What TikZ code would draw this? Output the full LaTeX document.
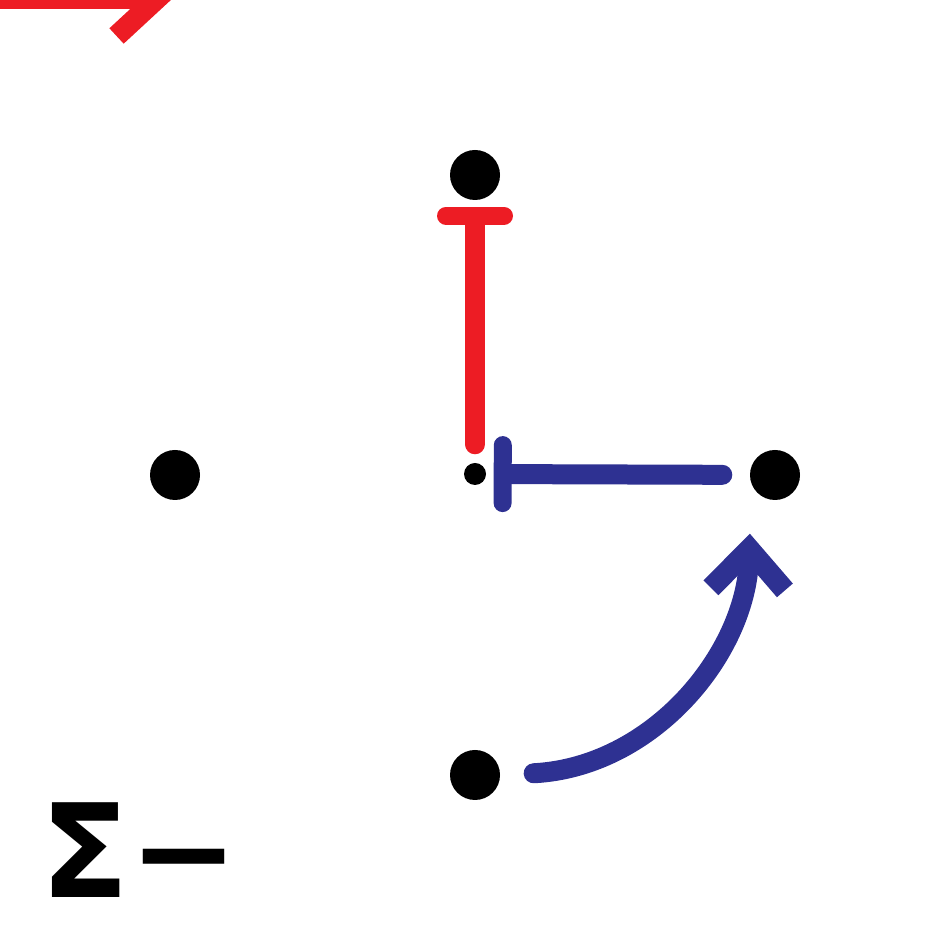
\documentclass[tikz,border=0pt]{standalone}
\usepackage{fontspec}
\newfontfamily\symfont{DejaVu Sans}
\usetikzlibrary{arrows.meta}
\definecolor{actred}{HTML}{ED1C24}
\definecolor{inhblue}{HTML}{2E3192}

\begin{document}
\begin{tikzpicture}[
  site/.style={circle, fill=black, inner sep=0pt, minimum size=0.5cm},
  hub/.style={circle, fill=black, inner sep=0pt, minimum size=0.22cm},
  link/.style={line width=0.2cm, line cap=round},
  inhibit/.style={link, -{Bar[width=5.8mm, line width=1.8mm, round]}},
  activate/.style={link, -{Straight Barb[length=4mm, width=7.4mm, line width=2.1mm]}}
]
\useasboundingbox (0,0) rectangle (9.5,9.5);

% Sommets
\node[site] (top) at (4.75,7.75) {};
\node[site] (lft) at (1.75,4.75) {};
\node[hub]  (ctr) at (4.75,4.76) {};
\node[site] (rgt) at (7.75,4.75) {};
\node[site] (bot) at (4.75,1.75) {};

% Extrémités libres de la flèche coupée
\coordinate (inA) at (-0.5,9.51);
\coordinate (inB) at (1.72,9.51);

% Flèches
\draw[inhibit, draw=actred, shorten <=0.18cm, shorten >=0.06cm] (ctr) -- (top);
\draw[inhibit, draw=inhblue, shorten <=0.27cm, shorten >=0.07cm] (rgt) -- (ctr);
\draw[activate, draw=inhblue, shorten <=0.33cm, shorten >=0.33cm]
  (bot.east) to[out=3, in=-92, looseness=1.05] ([xshift=-0.24cm]rgt.south);
\draw[activate, draw=actred] (inA) -- (inB);

% Étiquette
\node[font=\symfont\bfseries\fontsize{37}{37}\selectfont, anchor=south west, inner sep=0pt] (sig) at (0.40,0.52) {Σ−};
\end{tikzpicture}
\end{document}
